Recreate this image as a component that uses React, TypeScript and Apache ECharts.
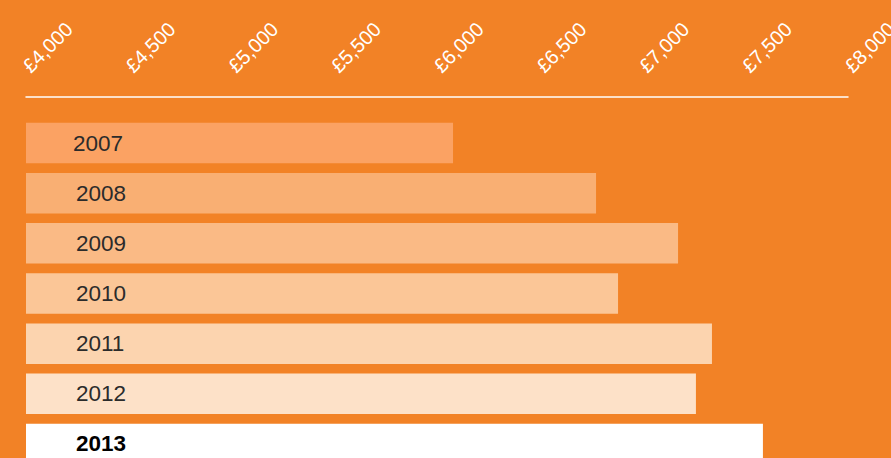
import React, { useEffect, useRef } from "react";
import * as echarts from "echarts";

const years = ["2007", "2008", "2009", "2010", "2011", "2012", "2013"];
const values = [6078, 6774, 7173, 6881, 7338, 7260, 7586];
const barColors = ["#FBA263", "#F9AF73", "#FABA85", "#FBC697", "#FCD4AF", "#FDE1C8", "#FFFFFF"];
const axisMin = 4000;
const axisMax = 8000;
const axisStep = 500;

export default function App() {
  const ref = useRef<HTMLDivElement>(null);
  useEffect(() => {
    if (!ref.current) return;
    const chart = echarts.init(ref.current, null, { renderer: "svg" });
    const font = "Liberation Sans, Arial, sans-serif";
    chart.setOption({
      animation: false,
      backgroundColor: "#F28226",
      grid: { left: 26, right: 43, top: 118, bottom: 31, containLabel: false, outerBoundsMode: "none" },
      xAxis: {
        type: "value",
        position: "top",
        offset: 21,
        min: axisMin,
        max: axisMax,
        interval: axisStep,
        axisLine: { show: true, lineStyle: { color: "#FFFFFF", width: 1.5 } },
        axisTick: { show: false },
        splitLine: { show: false },
        axisLabel: {
          rotate: -45,
          margin: 28,
          padding: [0, 0, 16, 0],
          color: "#FFFFFF",
          fontSize: 20,
          fontFamily: font,
          formatter: (v: number) => "£" + v.toLocaleString("en-GB"),
        },
      },
      yAxis: {
        type: "category",
        data: years,
        inverse: true,
        axisLine: { show: false },
        axisTick: { show: false },
        axisLabel: {
          inside: true,
          margin: 47,
          fontFamily: font,
          formatter: (v: string) =>
            v === "2013" ? "{b|" + v + "}" : v === "2007" ? "{a|" + v + "}" : "{n|" + v + "}",
          rich: {
            a: { fontSize: 22.5, color: "#2B2B2B", fontFamily: font },
            n: { fontSize: 22.5, color: "#2B2B2B", padding: [0, 0, 0, 3], fontFamily: font },
            b: { fontSize: 22.5, color: "#000000", fontWeight: "bold", padding: [0, 0, 0, 3], fontFamily: font },
          },
        },
        z: 10,
      },
      series: [
        {
          type: "bar",
          barWidth: 40.5,
          data: values.map((v, i) => ({ value: v, itemStyle: { color: barColors[i] } })),
          z: 1,
        },
      ],
    });
    return () => chart.dispose();
  }, []);
  return (
    <div style={{ position: "fixed", left: 0, top: 0, width: 891, height: 458, overflow: "hidden", background: "#F28226" }}>
      <div ref={ref} style={{ width: 891, height: 500 }} />
    </div>
  );
}
